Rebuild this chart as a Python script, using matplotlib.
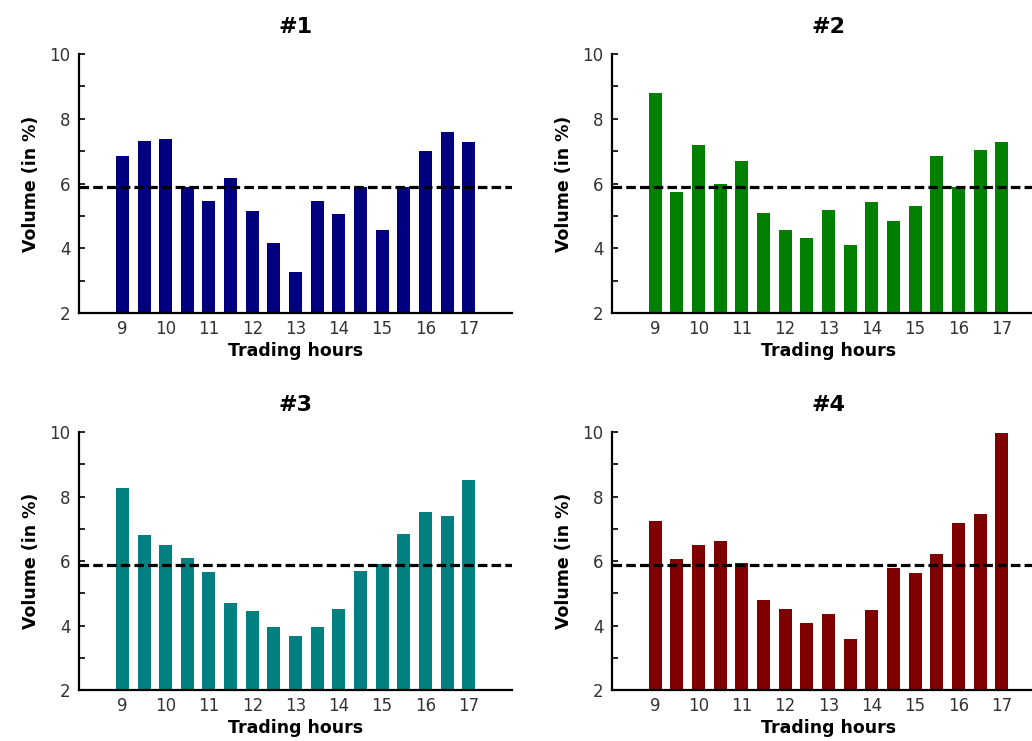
import numpy as np
import matplotlib
matplotlib.use('Agg')
import matplotlib.pyplot as plt

# half-hour buckets from 9:00 to 17:00
hours = np.arange(17) * 0.5 + 9
hour_ticks = [9, 10, 11, 12, 13, 14, 15, 16, 17]

vol_1 = [6.86, 7.32, 7.37, 5.89, 5.46, 6.18, 5.14, 4.16, 3.28,
         5.47, 5.06, 5.89, 4.57, 5.89, 6.99, 7.58, 7.28]
vol_2 = [8.79, 5.75, 7.20, 6.00, 6.71, 5.10, 4.57, 4.32, 5.19,
         4.10, 5.42, 4.85, 5.29, 6.86, 5.88, 7.02, 7.29]
vol_3 = [8.25, 6.80, 6.49, 6.09, 5.65, 4.69, 4.45, 3.95, 3.67,
         3.95, 4.51, 5.68, 5.90, 6.83, 7.51, 7.39, 8.50]
vol_4 = [7.23, 6.06, 6.49, 6.62, 5.95, 4.78, 4.50, 4.08, 4.36,
         3.58, 4.48, 5.79, 5.62, 6.23, 7.17, 7.45, 9.97]

titles = ['#1', '#2', '#3', '#4']
colors = ['#000080', '#008000', '#008080', '#800000']
avg_share = 5.88  # uniform share line

fig = plt.figure(figsize=(10.32, 7.41), dpi=100)

# axes boxes in figure fractions (right column runs past the edge)
boxes = [(0.0766, 0.5776, 0.4196, 0.3495),
         (0.5930, 0.5776, 0.4196, 0.3495),
         (0.0766, 0.0688, 0.4196, 0.3482),
         (0.5930, 0.0688, 0.4196, 0.3482)]

for box, vals, title, col in zip(boxes, [vol_1, vol_2, vol_3, vol_4], titles, colors):
    ax = fig.add_axes(box)
    ax.bar(hours, vals, width=0.3, color=col)
    ax.axhline(avg_share, color='black', lw=2.3, ls=(0, (3, 1.3)), zorder=3)

    ax.set_xlim(8, 18)
    ax.set_ylim(2, 10)
    ax.set_xticks(hour_ticks)
    ax.set_yticks([2, 4, 6, 8, 10])
    ax.set_yticks([3, 5, 7, 9], minor=True)
    ax.tick_params(axis='x', length=0, pad=5, labelsize=12, labelcolor='#333333')
    ax.tick_params(axis='y', which='both', direction='in', length=4, width=1.2,
                   pad=6, labelsize=12, labelcolor='#333333')

    for s in ['top', 'right']:
        ax.spines[s].set_visible(False)
    for s in ['left', 'bottom']:
        ax.spines[s].set_linewidth(1.6)

    ax.set_title(title, fontsize=16, fontweight='bold', pad=15)
    ax.set_xlabel('Trading hours', fontsize=12.5, fontweight='bold', labelpad=3)
    ax.set_ylabel('Volume (in %)', fontsize=12.5, fontweight='bold', labelpad=7)

plt.savefig('out.png', dpi=100)
